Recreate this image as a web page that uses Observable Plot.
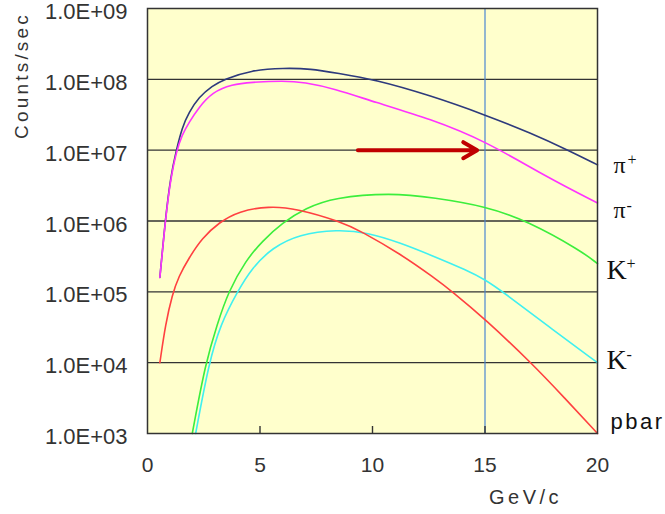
<!DOCTYPE html>
<html>
<head>
<meta charset="utf-8">
<script src="https://cdn.jsdelivr.net/npm/d3@7"></script>
<script src="https://cdn.jsdelivr.net/npm/@observablehq/plot@0.6"></script>
<style>
  html, body { margin: 0; padding: 0; background: #fff; overflow: hidden; }
</style>
</head>
<body>
<div id="chart"></div>
<script>
// ---- data ----
const xTicks = [0, 5, 10, 15, 20];
const xInnerTicks = [5, 10, 15];
const yTicks = [1e3, 1e4, 1e5, 1e6, 1e7, 1e8, 1e9];
const yTickLabels = ["1.0E+03", "1.0E+04", "1.0E+05", "1.0E+06", "1.0E+07", "1.0E+08", "1.0E+09"];
const gridValues = [1e4, 1e5, 1e6, 1e7, 1e8];

const piPlusP = [0.55, 0.8, 1.02, 1.28, 1.54, 1.84, 2.28, 2.88, 3.4, 4.58, 6.07, 7.25, 8.44, 10.07, 12.59, 15.0, 17.05, 18.75, 20];
const piPlusC = [1.6e5, 1.1e6, 4.1e6, 1.0e7, 2.1e7, 3.4e7, 5.6e7, 8.1e7, 1.0e8, 1.34e8, 1.45e8, 1.41e8, 1.22e8, 1.0e8, 5.9e7, 3.16e7, 1.74e7, 9.8e6, 6.2e6];

const piMinusP = [0.55, 0.8, 1.02, 1.28, 1.54, 1.84, 2.28, 2.88, 3.77, 4.58, 6.07, 6.96, 8.29, 10.07, 12.59, 15.01, 17.79, 20];
const piMinusC = [1.6e5, 1.07e6, 3.8e6, 9.5e6, 1.66e7, 2.45e7, 4.0e7, 6.6e7, 8.5e7, 9.1e7, 9.55e7, 9.1e7, 7.4e7, 4.8e7, 2.75e7, 1.35e7, 4.1e6, 1.8e6];

const kPlusP = [1.99, 2.58, 3.10, 3.59, 4.36, 5.10, 5.99, 7.03, 8.29, 10.81, 12.74, 15.01, 16.9, 19.27, 20];
const kPlusC = [1.0e3, 1.0e4, 3.5e4, 1.0e5, 2.75e5, 5.2e5, 9.4e5, 1.52e6, 2.14e6, 2.5e6, 2.14e6, 1.62e6, 1.0e6, 3.8e5, 2.5e5];

const kMinusP = [2.14, 2.73, 3.25, 3.99, 4.66, 5.55, 6.73, 8.44, 9.78, 11.26, 12.6, 14.23, 15.01, 15.8, 17.79, 20];
const kMinusC = [1.0e3, 1.0e4, 3.5e4, 1.0e5, 2.2e5, 4.2e5, 6.5e5, 7.6e5, 6.9e5, 4.9e5, 3.3e5, 2.0e5, 1.48e5, 1.0e5, 3.3e4, 1.0e4];

const pbarP = [0.55, 0.8, 1.1, 1.39, 1.84, 2.43, 3.17, 4.06, 5.4, 6.59, 8.59, 9.48, 11.26, 12.74, 13.56, 15.01, 17.05, 18.53, 20];
const pbarC = [1.0e4, 3.5e4, 9.1e4, 1.66e5, 3.0e5, 5.75e5, 9.5e5, 1.38e6, 1.62e6, 1.51e6, 9.8e5, 7.2e5, 3.4e5, 1.58e5, 1.0e5, 4.1e4, 1.0e4, 3.2e3, 1.0e3];

const cutMomentum = [15];
const arrowFrom = [9.35];
const arrowTo = [14.65];
const arrowLevel = [1e7];

const labelNames = ["π", "π", "K", "K", "pbar"];
const labelSups = ["+", "-", "+", "-", ""];
const labelCounts = [4.8e6, 1.1e6, 1.5e5, 8.1e3, 1.15e3];

// ---- styles ----
const seriesColors = ["#2e3a7c", "#ff33ff", "#3cee3c", "#40f0f0", "#ff4040"];
const labelStyles = [
  {font: "Liberation Serif", size: 24, dx: 16, supDx: 30, supDy: -8},
  {font: "Liberation Serif", size: 24, dx: 16, supDx: 29, supDy: -7},
  {font: "Liberation Serif", size: 28, dx: 9, supDx: 29, supDy: -10},
  {font: "Liberation Serif", size: 28, dx: 9, supDx: 29, supDy: -9},
  {font: "Liberation Sans", size: 22, dx: 13, supDx: 0, supDy: 0}
];

const seriesList = [
  [piPlusP, piPlusC],
  [piMinusP, piMinusC],
  [kPlusP, kPlusC],
  [kMinusP, kMinusC],
  [pbarP, pbarC]
];

const lineMarks = seriesList.map(([p, c], i) =>
  Plot.line(p.map((x, j) => ({x, y: c[j]})), {
    x: "x", y: "y", stroke: seriesColors[i], strokeWidth: 1.6, curve: "basis"
  })
);

const labelMarks = [];
labelNames.forEach((name, i) => {
  const s = labelStyles[i];
  labelMarks.push(Plot.text([{x: 20, y: labelCounts[i], t: name}], {
    x: "x", y: "y", text: "t", textAnchor: "start", lineAnchor: "bottom",
    dx: s.dx, fontSize: s.size, fontFamily: s.font, fill: "#111"
  }));
  if (labelSups[i]) {
    labelMarks.push(Plot.text([{x: 20, y: labelCounts[i], t: labelSups[i]}], {
      x: "x", y: "y", text: "t", textAnchor: "start", lineAnchor: "bottom",
      dx: s.supDx, dy: s.supDy, fontSize: 16, fontFamily: "Liberation Serif", fill: "#111"
    }));
  }
});

const chart = Plot.plot({
  width: 665,
  height: 514,
  marginLeft: 147,
  marginRight: 68,
  marginTop: 8,
  marginBottom: 81,
  x: {domain: [0, 20], label: null},
  y: {type: "log", domain: [1e3, 1e9], label: null},
  style: {fontFamily: "Liberation Sans, Arial, sans-serif", color: "#333", background: "#fff", overflow: "visible"},
  marks: [
    Plot.frame({fill: "#ffffcc", stroke: null}),
    Plot.ruleY(gridValues, {stroke: "#333", strokeWidth: 1.4}),
    Plot.ruleX(cutMomentum, {stroke: "#4a86d0", strokeWidth: 1.2}),
    Plot.ruleX(xInnerTicks, {stroke: "#333", strokeWidth: 1.4, insetTop: 418}),
    ...lineMarks,
    Plot.arrow(arrowFrom.map((x1, i) => ({x1, x2: arrowTo[i], y: arrowLevel[i]})), {
      x1: "x1", x2: "x2", y1: "y", y2: "y", stroke: "#c00000", strokeWidth: 4,
      headLength: 6, headAngle: 60
    }),
    Plot.frame({stroke: "#333", strokeWidth: 1.5}),
    Plot.axisY({
      ticks: yTicks, tickSize: 0, tickPadding: 20, fontSize: 22, label: null, dy: 3.5,
      tickFormat: (d) => yTickLabels[yTicks.indexOf(d)]
    }),
    Plot.axisX({
      ticks: xTicks, tickSize: 0, tickPadding: 24, fontSize: 21, label: null,
      tickFormat: (d) => String(d)
    }),
    Plot.text(["Counts/sec"], {
      frameAnchor: "top-left", text: (d) => d, rotate: -90, dx: -125.5, dy: 67,
      textAnchor: "middle", lineAnchor: "middle",
      fontSize: 19, fill: "#333"
    }),
    Plot.text(["GeV/c"], {
      frameAnchor: "bottom", text: (d) => d, textAnchor: "middle", lineAnchor: "bottom", dx: 153, dy: 70,
      fontSize: 20, fill: "#333"
    }),
    ...labelMarks
  ]
});

// letter spacing for the wide-set axis titles and the pbar label
const spacing = {"Counts/sec": 3.2, "GeV/c": 3.5, "pbar": 2.5};
d3.select(chart).selectAll("text").each(function () {
  const s = spacing[this.textContent];
  if (s) this.setAttribute("letter-spacing", s);
});

document.getElementById("chart").appendChild(chart);
</script>
</body>
</html>
